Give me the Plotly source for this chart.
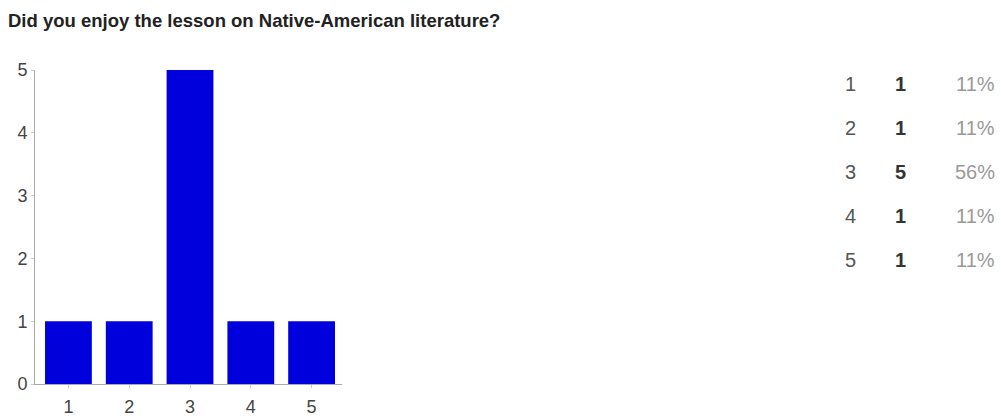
import plotly.graph_objects as go

categories = ["1", "2", "3", "4", "5"]
counts = [1, 1, 5, 1, 1]
percents = ["11%", "11%", "56%", "11%", "11%"]
y_ticks = [0, 1, 2, 3, 4, 5]
title = "Did you enjoy the lesson on Native-American literature?"

W, H = 1001, 418
L, R, T, B = 35, 342, 70, 384
FONT = "Liberation Sans, Arial, sans-serif"

fig = go.Figure(go.Bar(
    x=categories, y=counts,
    marker=dict(color="#0000dd", line=dict(width=0)),
    width=0.77,
))

def px_x(p):
    return (p - L) / (R - L)

def px_y(p):
    return (B - p) / (B - T)

ann = []
row_y = [84, 128, 172, 216, 260]
for i, (c, n, pct) in enumerate(zip(categories, counts, percents)):
    yy = px_y(row_y[i])
    ann.append(dict(x=px_x(850), y=yy, xref="paper", yref="paper", text=c,
                    showarrow=False, xanchor="center", yanchor="middle",
                    font=dict(family=FONT, size=20, color="#555555")))
    ann.append(dict(x=px_x(900), y=yy, xref="paper", yref="paper", text="<b>%d</b>" % n,
                    showarrow=False, xanchor="center", yanchor="middle",
                    font=dict(family=FONT, size=20, color="#333333")))
    ann.append(dict(x=px_x(997), y=yy, xref="paper", yref="paper", text=pct,
                    showarrow=False, xanchor="right", yanchor="middle",
                    font=dict(family=FONT, size=20, color="#999999")))

ann.append(dict(x=px_x(6), y=px_y(20), xref="paper", yref="paper", text="<b>" + title + "</b>",
                showarrow=False, xanchor="left", yanchor="middle",
                font=dict(family=FONT, size=18.5, color="#222222")))

fig.update_layout(
    width=W, height=H,
    margin=dict(l=L, r=W - R, t=T, b=H - B, pad=0, autoexpand=False),
    paper_bgcolor="white", plot_bgcolor="white",
    showlegend=False,
    annotations=ann,
    xaxis=dict(type="category", range=[-0.55, 4.5], showgrid=False, zeroline=False,
               automargin=False, ticklabelstandoff=3,
               showline=True, linecolor="#aaaaaa", linewidth=1,
               ticks="outside", ticklen=3, tickcolor="#cccccc",
               tickfont=dict(family=FONT, size=18, color="#444444")),
    yaxis=dict(range=[0, 5], tickvals=y_ticks, showgrid=False, zeroline=False,
               automargin=False,
               showline=True, linecolor="#aaaaaa", linewidth=1,
               ticks="outside", ticklen=3, tickcolor="#cccccc",
               tickfont=dict(family=FONT, size=18, color="#444444")),
)

fig.write_html("out.html", config={"displayModeBar": False},
               post_script="document.body.style.margin='0';")
